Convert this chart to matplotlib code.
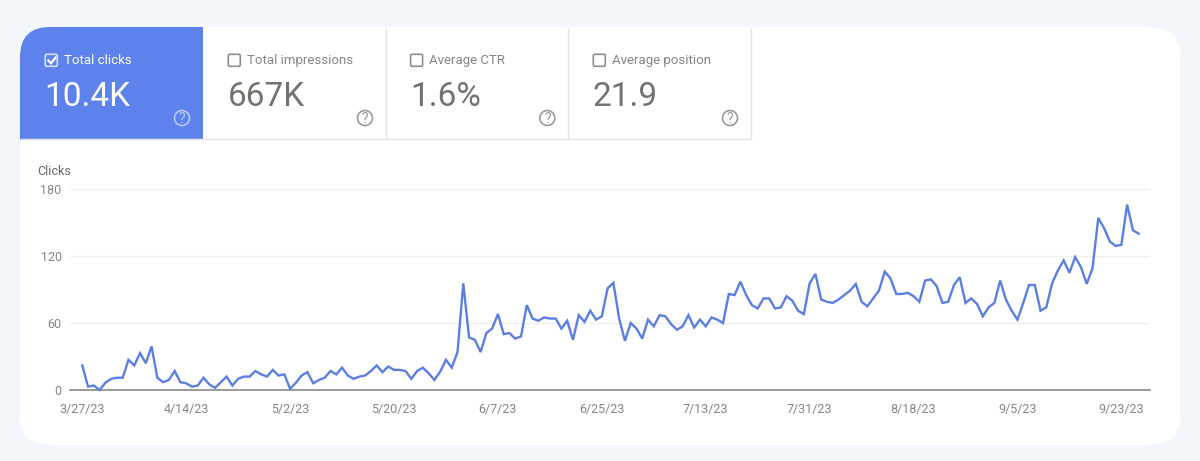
from matplotlib import pyplot as plt
from matplotlib.patches import FancyBboxPatch, Rectangle, Circle
import numpy as np

plt.rcParams['font.family'] = ['Roboto', 'DejaVu Sans']

# daily clicks, 3/27/23 onwards
clicks = [22, 3, 4, 0, 6.5, 10, 11, 11, 27, 22, 33, 24, 39, 11, 7, 9, 17, 7, 6, 3,
          4, 11, 5, 2, 7, 12, 4, 10, 12, 12, 17, 14, 12, 18, 13, 14, 1, 6.5, 13, 16,
          6, 9, 11, 17, 14, 20, 13, 10, 12, 13, 17, 22, 16, 21, 18, 18, 17, 10, 17, 20,
          15, 9, 16.5, 27, 20, 34, 95.5, 47, 45, 34, 51, 55, 68, 50, 51, 46, 48, 76, 64, 62,
          65, 64, 64, 55, 62, 45, 67, 61, 71, 63, 66, 91, 96, 64, 44, 60, 55, 46, 63, 57,
          67, 66, 59, 54, 57, 67, 56, 63, 57, 65, 63, 60, 86, 85, 97, 85, 76, 73, 82, 82,
          73, 74, 84, 80, 71, 68, 95.5, 104, 81, 79, 78, 81, 85, 89, 95, 79, 75, 82, 89, 106,
          100, 86, 86, 87, 84, 79, 98, 99, 93, 78, 79, 94, 101, 78, 82, 77, 66, 74, 78, 98,
          81, 71, 63, 78, 94, 94, 71, 74, 95.5, 107, 116, 105, 119, 110, 95, 109, 154, 145, 133, 129,
          130, 166, 143, 140]
date_ticks = [0, 18, 36, 54, 72, 90, 108, 126, 144, 162, 180]
date_labels = ['3/27/23', '4/14/23', '5/2/23', '5/20/23', '6/7/23', '6/25/23',
               '7/13/23', '7/31/23', '8/18/23', '9/5/23', '9/23/23']
y_ticks = [0, 60, 120, 180]
tile_titles = ['Total clicks', 'Total impressions', 'Average CTR', 'Average position']
tile_values = ['10.4K', '667K', '1.6%', '21.9']

W, H = 1200, 461
BLUE = '#5e82ec'
LINE = '#5c7fdf'
GREY = '#858584'
DARK = '#72726f'
BORDER = '#e3e3e3'

fig = plt.figure(figsize=(W / 100, H / 100), dpi=100, facecolor='#f3f6fb')

# background layer in pixel coordinates, card and tiles
bg = fig.add_axes([0, 0, 1, 1])
bg.set_xlim(0, W)
bg.set_ylim(H, 0)
bg.axis('off')

card = FancyBboxPatch((20 + 30, 27 + 30), 1160 - 60, 418 - 60, boxstyle='round,pad=30,rounding_size=30',
                      facecolor='white', edgecolor='none')
bg.add_patch(card)

tile_left = [20, 203, 385.3, 568]
for i in range(4):
    x0 = tile_left[i]
    if i == 0:
        tile = Rectangle((x0, 27), 183, 113, facecolor=BLUE, edgecolor='none')
        bg.add_patch(tile)
        tile.set_clip_path(card)
    else:
        right = x0 + 182.5
        bg.plot([right, right], [27, 139.5], color=BORDER, lw=1, solid_capstyle='butt')
    text_col = 'white' if i == 0 else GREY
    val_col = 'white' if i == 0 else DARK
    icon_col = '#b9c8f6' if i == 0 else '#9a9a9a'

    # checkbox
    bg.add_patch(FancyBboxPatch((x0 + 25.3, 54.3), 12, 12, boxstyle='round,pad=0,rounding_size=1.5',
                                facecolor='none', edgecolor='#d5dffa' if i == 0 else '#8e8e8e', lw=1.2))
    if i == 0:
        bg.plot([x0 + 28.5, x0 + 31, x0 + 35.5], [60.5, 63.5, 57.5], color='white', lw=1.6)

    bg.text(x0 + 44, 60.5, tile_titles[i], color=text_col, fontsize=9.5, va='center', ha='left')
    bg.text(x0 + 24.5, 96.5, tile_values[i], color=val_col, fontsize=24, va='center', ha='left')

    # help icon
    bg.add_patch(Circle((x0 + 162, 118), 7.5, facecolor='none', edgecolor=icon_col, lw=1.2))
    bg.text(x0 + 162, 118.5, '?', color=icon_col, fontsize=10, va='center', ha='center')

bg.plot([20, 751], [139.5, 139.5], color=BORDER, lw=1, solid_capstyle='butt')
bg.text(37, 171.5, 'Clicks', color='#666666', fontsize=9, va='center', ha='left')

# chart
ax = fig.add_axes([70 / W, (H - 390) / H, 1080 / W, 201 / H])
ax.patch.set_alpha(0)
days = np.arange(len(clicks))
ax.plot(days, clicks, color=LINE, lw=1.7, clip_on=False, solid_joinstyle='miter', zorder=3)
ax.set_xlim(-2.13, 184.96)
ax.set_ylim(0, 180)
ax.set_yticks(y_ticks)
ax.set_xticks(date_ticks)
ax.set_xticklabels(date_labels)
ax.grid(axis='y', color='#efefef', lw=1)
ax.set_axisbelow(True)
for s in ['top', 'left', 'right']:
    ax.spines[s].set_visible(False)
ax.spines['bottom'].set_color('#8a8a8a')
ax.spines['bottom'].set_linewidth(1.2)
ax.tick_params(axis='both', length=0, labelsize=9, labelcolor=GREY)
ax.tick_params(axis='x', pad=9)
ax.tick_params(axis='y', pad=6)

plt.savefig('out.png', dpi=100, facecolor=fig.get_facecolor())
plt.close()
